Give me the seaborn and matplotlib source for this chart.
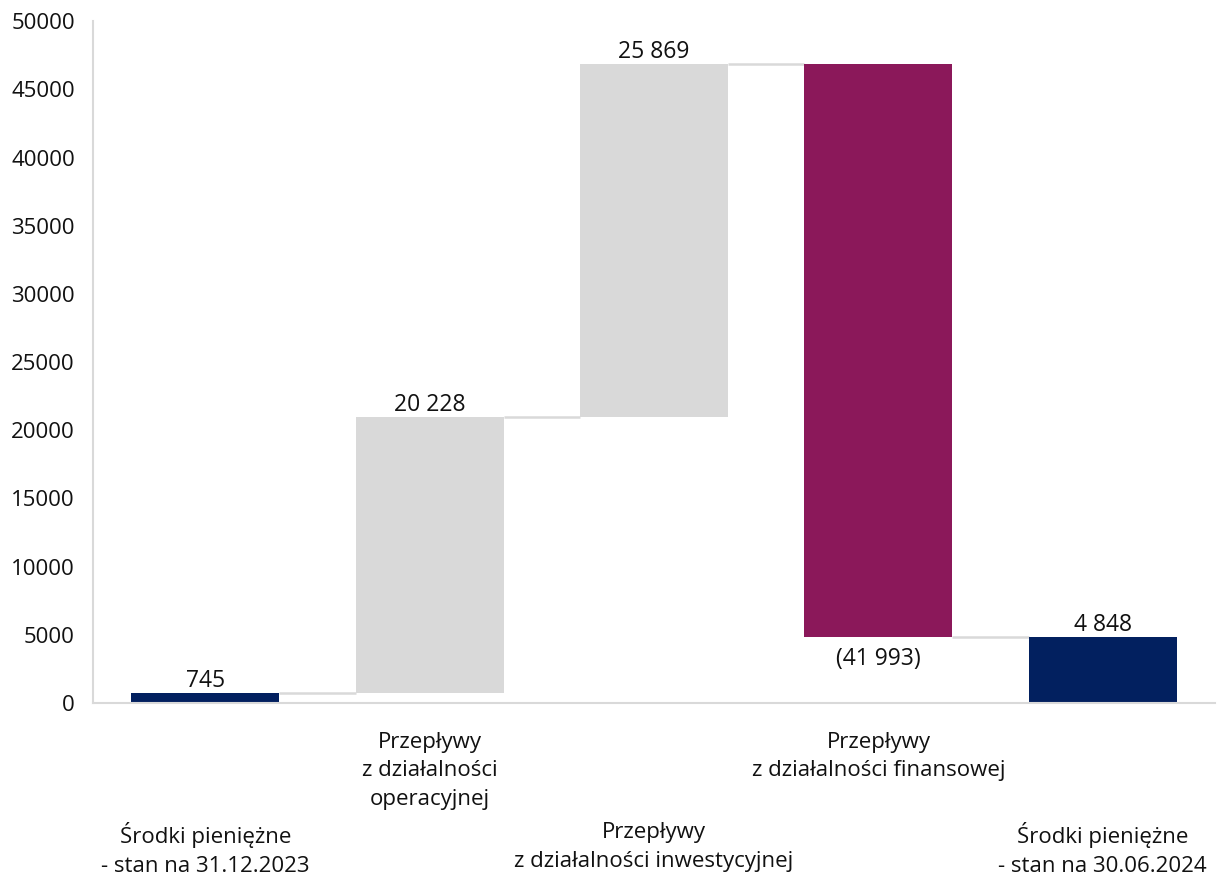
import numpy as np
import pandas as pd
import matplotlib
matplotlib.use("Agg")
import matplotlib.pyplot as plt
import seaborn as sns

# ---- data ----
categories = [
    "Środki pieniężne\n- stan na 31.12.2023",
    "Przepływy\nz działalności\noperacyjnej",
    "Przepływy\nz działalności inwestycyjnej",
    "Przepływy\nz działalności finansowej",
    "Środki pieniężne\n- stan na 30.06.2024",
]
values = [745, 20228, 25869, -41993, 4848]
is_total = [True, False, False, False, True]
value_labels = ["745", "20 228", "25 869", "(41 993)", "4 848"]
bar_colors = ["#02205F", "#D9D9D9", "#D9D9D9", "#8B185A", "#02205F"]
y_ticks = [0, 5000, 10000, 15000, 20000, 25000, 30000, 35000, 40000, 45000, 50000]

# ---- waterfall geometry from data ----
bottoms, heights, levels = [], [], []
running = 0
for v, tot in zip(values, is_total):
    if tot:
        bottoms.append(0)
        heights.append(v)
        running = v
    else:
        new = running + v
        bottoms.append(min(running, new))
        heights.append(abs(v))
        running = new
    levels.append(running)

df = pd.DataFrame({"cat": categories, "height": heights})

sns.set_theme(style="white")
plt.rcParams["font.family"] = ["Open Sans", "DejaVu Sans"]

fig = plt.figure(figsize=(12.19, 8.81), dpi=100)
ax = fig.add_axes([0.0763, 0.202, 0.9204, 0.774])

width = 0.66
sns.barplot(data=df, x="cat", y="height", order=categories, bottom=bottoms,
            color="#D9D9D9", width=width, errorbar=None, saturation=1,
            linewidth=0, ax=ax)
for patch, c in zip(ax.patches, bar_colors):
    patch.set_facecolor(c)
    patch.set_edgecolor("none")

# connectors
for i in range(len(values) - 1):
    ax.plot([i + width / 2, i + 1 - width / 2], [levels[i], levels[i]],
            color="#D9D9D9", lw=1.8, zorder=0.5, solid_capstyle="butt")

# value labels
vfs = 16.5
for i, (v, b, h, lab) in enumerate(zip(values, bottoms, heights, value_labels)):
    if v < 0:
        ax.annotate(lab, (i, b), xytext=(0, -7), textcoords="offset points",
                    ha="center", va="top", fontsize=vfs, color="#111111")
    else:
        ax.annotate(lab, (i, b + h), xytext=(0, 0), textcoords="offset points",
                    ha="center", va="bottom", fontsize=vfs, color="#111111")

fs = 16
ax.set_xlim(-0.5, 4.5)
ax.set_ylim(0, 50000)
ax.set_yticks(y_ticks)
ax.set_yticklabels([str(t) for t in y_ticks], fontsize=fs, color="#111111")
ax.set_xlabel("")
ax.set_ylabel("")
ax.tick_params(axis="both", length=0)
ax.tick_params(axis="y", pad=13)
ax.set_xticks(range(len(categories)))
ax.set_xticklabels(categories, fontsize=fs, color="#111111", linespacing=1.45)
for i, tick in enumerate(ax.xaxis.get_major_ticks()):
    tick.set_pad(21 if i % 2 == 1 else 86)

for s in ["top", "right"]:
    ax.spines[s].set_visible(False)
for s in ["left", "bottom"]:
    ax.spines[s].set_color("#D9D9D9")
    ax.spines[s].set_linewidth(1.5)

fig.savefig("out.png", dpi=100)
